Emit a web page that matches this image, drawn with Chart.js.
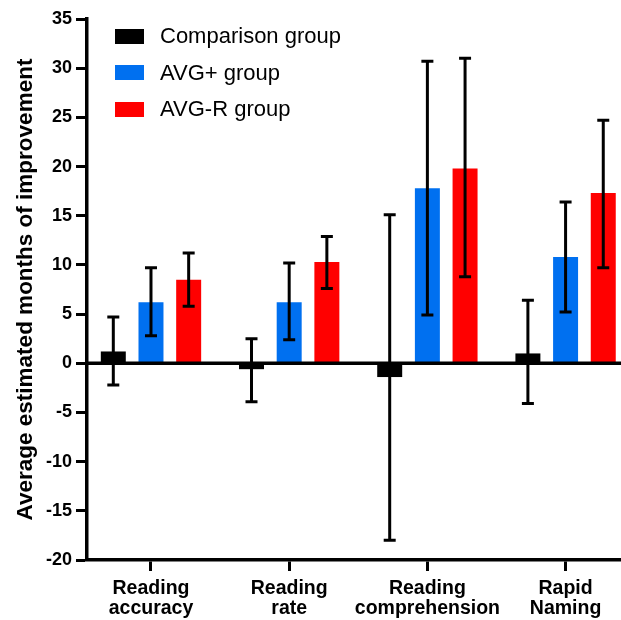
<!DOCTYPE html>
<html>
<head>
<meta charset="utf-8">
<script src="https://cdn.jsdelivr.net/npm/chart.js@4.4.0/dist/chart.umd.min.js"></script>
<style>
  body { margin: 0; background: #fff; }
  #wrap { position: relative; width: 621px; height: 620px; overflow: hidden; }
  #legend { position: absolute; left: 115px; top: 18px; font-family: "Liberation Sans", Arial, sans-serif; font-size: 22px; color: #000; }
  .row { display: flex; align-items: center; height: 36.5px; }
  .box { width: 29px; height: 15px; margin-right: 16px; }
</style>
</head>
<body>
<div id="wrap">
  <canvas id="chart" width="621" height="620"></canvas>
  <div id="legend"></div>
</div>
<script>
// categories (two-line labels)
const categories = [
    ['Reading', 'accuracy'],
    ['Reading', 'rate'],
    ['Reading', 'comprehension'],
    ['Rapid', 'Naming']
];

const seriesNames = ['Comparison group', 'AVG+ group', 'AVG-R group'];
const seriesColors = ['#000000', '#0070F0', '#FF0000'];

// means and error bar ends
const comparison = [1.2, -0.6, -1.4, 1.0];
const comparisonLow = [-2.2, -3.9, -18.0, -4.1];
const comparisonHigh = [4.7, 2.5, 15.1, 6.4];

const avgPlus = [6.2, 6.2, 17.8, 10.8];
const avgPlusLow = [2.8, 2.4, 4.9, 5.2];
const avgPlusHigh = [9.7, 10.2, 30.7, 16.4];

const avgR = [8.5, 10.3, 19.8, 17.3];
const avgRLow = [5.8, 7.6, 8.8, 9.7];
const avgRHigh = [11.2, 12.9, 31.0, 24.7];

const yTicks = [-20, -15, -10, -5, 0, 5, 10, 15, 20, 25, 30, 35];

Chart.defaults.font.family = '"Liberation Sans", Arial, sans-serif';
Chart.defaults.color = '#000';

function toPoints(values, low, high) {
    return values.map((v, i) => ({ x: i, y: v, low: low[i], high: high[i] }));
}

const seriesValues = [
    toPoints(comparison, comparisonLow, comparisonHigh),
    toPoints(avgPlus, avgPlusLow, avgPlusHigh),
    toPoints(avgR, avgRLow, avgRHigh)
];

// zero line + error bars on top of the bars
const errorBars = {
    id: 'errorBars',
    afterDatasetsDraw(chart) {
        const ctx = chart.ctx;
        const y = chart.scales.y;
        const area = chart.chartArea;
        ctx.save();
        ctx.strokeStyle = '#000';
        ctx.lineWidth = 3.5;
        ctx.beginPath();
        ctx.moveTo(area.left, y.getPixelForValue(0));
        ctx.lineTo(area.right, y.getPixelForValue(0));
        ctx.stroke();

        ctx.lineWidth = 3;
        chart.data.datasets.forEach((ds, di) => {
            const meta = chart.getDatasetMeta(di);
            meta.data.forEach((bar, i) => {
                const p = ds.data[i];
                const yl = y.getPixelForValue(p.low);
                const yh = y.getPixelForValue(p.high);
                ctx.beginPath();
                ctx.moveTo(bar.x, yl);
                ctx.lineTo(bar.x, yh);
                ctx.moveTo(bar.x - 6, yl);
                ctx.lineTo(bar.x + 6, yl);
                ctx.moveTo(bar.x - 6, yh);
                ctx.lineTo(bar.x + 6, yh);
                ctx.stroke();
            });
        });
        ctx.restore();
    }
};

new Chart(document.getElementById('chart'), {
    type: 'bar',
    data: {
        datasets: seriesNames.map((name, i) => ({
            label: name,
            data: seriesValues[i],
            backgroundColor: seriesColors[i],
            borderWidth: 0,
            categoryPercentage: 0.818,
            barPercentage: 0.663
        }))
    },
    options: {
        responsive: false,
        animation: false,
        layout: { padding: { top: 19, right: 0, bottom: 0, left: 0 } },
        plugins: {
            legend: { display: false },
            tooltip: { enabled: false }
        },
        scales: {
            x: {
                type: 'linear',
                offset: false,
                min: -0.463,
                max: 3.401,
                afterBuildTicks: s => { s.ticks = categories.map((c, i) => ({ value: i })); },
                afterFit: s => { s.height = 60; },
                border: { display: true, color: '#000', width: 3.5 },
                grid: { offset: false, drawOnChartArea: false, drawTicks: true, tickLength: 11, tickWidth: 3, tickColor: '#000' },
                ticks: {
                    padding: 7,
                    maxRotation: 0,
                    autoSkip: false,
                    font: { size: 19.5, weight: 'bold', lineHeight: 1.06 },
                    callback: v => categories[v]
                }
            },
            y: {
                min: -20,
                max: 35,
                afterBuildTicks: s => { s.ticks = yTicks.map(v => ({ value: v })); },
                afterFit: s => { s.width = 87; },
                border: { display: true, color: '#000', width: 3.5 },
                grid: { drawOnChartArea: false, drawTicks: true, tickLength: 11, tickWidth: 3, tickColor: '#000' },
                ticks: {
                    padding: 4,
                    font: { size: 18, weight: 'bold' },
                    callback: v => String(v)
                },
                title: {
                    display: true,
                    text: 'Average estimated months of improvement',
                    font: { size: 22.5, weight: 'bold' },
                    padding: { top: 12, bottom: 0 }
                }
            }
        }
    },
    plugins: [errorBars]
});

// legend drawn as html, top-left inside the plot
const legend = document.getElementById('legend');
seriesNames.forEach((name, i) => {
    const row = document.createElement('div');
    row.className = 'row';
    const box = document.createElement('span');
    box.className = 'box';
    box.style.background = seriesColors[i];
    row.appendChild(box);
    row.appendChild(document.createTextNode(name));
    legend.appendChild(row);
});
</script>
</body>
</html>
